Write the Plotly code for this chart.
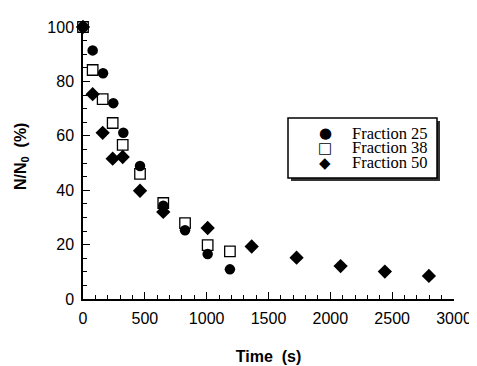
import plotly.graph_objects as go

# ---- data ----
time_25 = [0, 78, 162, 245, 326, 461, 649, 825, 1008, 1188]
frac_25 = [100, 91.4, 83.0, 72.0, 61.1, 48.9, 34.3, 25.3, 16.5, 10.9]

time_38 = [0, 78, 159, 240, 321, 461, 649, 825, 1008, 1188]
frac_38 = [100, 84.2, 73.5, 64.7, 56.7, 46.0, 35.3, 27.9, 19.8, 17.5]

time_50 = [0, 78, 159, 240, 321, 461, 649, 1008, 1364, 1727, 2083, 2441, 2797]
frac_50 = [100, 75.3, 61.1, 51.6, 52.2, 39.8, 32.0, 26.1, 19.3, 15.2, 12.1, 10.1, 8.5]

names = ["Fraction 25", "Fraction 38", "Fraction 50"]
legend_glyphs = ["\u25CF", "\u25A1", "\u25C6"]
x_ticks = [0, 500, 1000, 1500, 2000, 2500, 3000]
y_ticks = [0, 20, 40, 60, 80, 100]

# page is rendered with an 8px body margin; compensate so the plot area
# lands at page pixels x 83..454, y 19..300
OFF = 8
W, H = 477, 366
PL, PR, PT, PB = 83, 454, 19, 300
ML, MT = PL - OFF, PT - OFF
MR, MB = W + OFF - PR, H + OFF - PB

fig = go.Figure()
fig.add_trace(go.Scatter(x=time_25, y=frac_25, mode="markers", name=names[0],
                         marker=dict(symbol="circle", size=10.5, color="black"),
                         cliponaxis=False))
fig.add_trace(go.Scatter(x=time_38, y=frac_38, mode="markers", name=names[1],
                         marker=dict(symbol="square-open", size=10.5, color="black",
                                     line=dict(width=1.3, color="black")),
                         cliponaxis=False))
fig.add_trace(go.Scatter(x=time_50, y=frac_50, mode="markers", name=names[2],
                         marker=dict(symbol="diamond", size=11, color="black"),
                         cliponaxis=False))

pw, ph = PR - PL, PB - PT
def px(x): return (x - PL) / pw
def py(y): return (PB - y) / ph

# legend frame with drop shadow
bx0, by0, bx1, by1 = 288, 113, 437, 175
fig.add_shape(type="rect", xref="paper", yref="paper",
              x0=px(bx0 + 3), x1=px(bx1 + 3), y0=py(by1 + 3), y1=py(by0 + 3),
              fillcolor="#333333", line=dict(width=0))
fig.add_shape(type="rect", xref="paper", yref="paper",
              x0=px(bx0), x1=px(bx1), y0=py(by1), y1=py(by0),
              fillcolor="white", line=dict(width=1.5, color="black"))

row_y = [129, 144, 159]
for name, glyph, ry in zip(names, legend_glyphs, row_y):
    fig.add_annotation(x=px(325), y=py(ry), xref="paper", yref="paper",
                       text=glyph, showarrow=False, xanchor="center", yanchor="middle",
                       borderpad=0,
                       font=dict(family="DejaVu Sans", size=15, color="black"))
    fig.add_annotation(x=px(351), y=py(ry), xref="paper", yref="paper",
                       text=name, showarrow=False, xanchor="left", yanchor="middle",
                       borderpad=0,
                       font=dict(family="Liberation Serif, Times New Roman", size=16.5,
                                 color="black"))

axis_common = dict(showline=True, linecolor="black", linewidth=1.5, mirror=False,
                   ticks="inside", ticklen=7, tickwidth=1.3, tickcolor="black",
                   showgrid=False, zeroline=False,
                   tickfont=dict(family="Liberation Sans, Arial", size=16, color="black"))

fig.update_layout(
    width=W, height=H,
    margin=dict(l=ML, r=MR, t=MT, b=MB),
    paper_bgcolor="white", plot_bgcolor="white",
    showlegend=False,
    xaxis=dict(range=[0, 3000], tickvals=x_ticks,
               minor=dict(ticks="inside", ticklen=4, dtick=100, tickcolor="black", tickwidth=1),
               ticklabelstandoff=4,
               title=dict(text="<b>Time  (s)</b>", standoff=25,
                          font=dict(family="Liberation Sans, Arial", size=16, color="black")),
               **axis_common),
    yaxis=dict(range=[0, 100], tickvals=y_ticks,
               minor=dict(ticks="inside", ticklen=4, dtick=5, tickcolor="black", tickwidth=1),
               ticklabelstandoff=4,
               title=dict(text="<b>&nbsp;&nbsp;&nbsp;N/N<sub>0</sub>  (%)</b>", standoff=17,
                          font=dict(family="Liberation Sans, Arial", size=16, color="black")),
               **axis_common),
)

fig.write_html("out.html")
